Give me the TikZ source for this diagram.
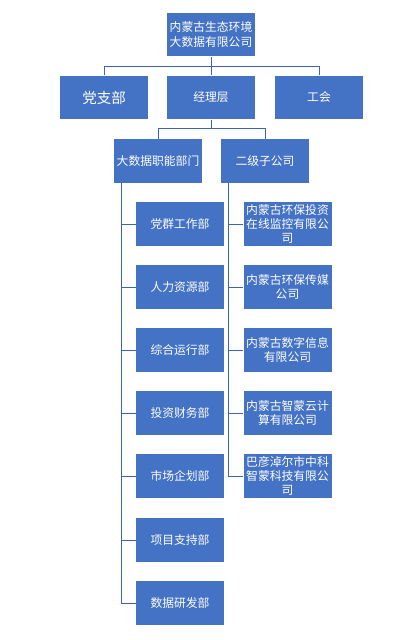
\documentclass[tikz,border=0pt]{standalone}
\usepackage{fontspec}
\newfontfamily\cjk{Noto Sans CJK SC}
\definecolor{box_blue}{RGB}{68,114,196}
\definecolor{edge_blue}{RGB}{59,100,180}
\begin{document}
\begin{tikzpicture}[x=1pt,y=-1pt,semithick]
    \tikzstyle{box}=[fill=box_blue, draw=none, minimum width=88pt, minimum height=43.5pt, inner sep=1pt, align=center, text=white, font=\cjk\fontsize{11.8}{14.2}\selectfont]
    \tikzstyle{big}=[style=box, font=\cjk\fontsize{14.5}{17}\selectfont]
    \tikzstyle{link}=[draw=edge_blue, line width=0.9pt]
    \tikzstyle{elbow}=[to path={|- (\tikztotarget)}]
    \useasboundingbox (0,0) rectangle (412,640);

    \node[box] (eco)   at (211,34.5) {内蒙古生态环境\\大数据有限公司};
    \node[big] (party) at (104,97.5) {党支部};
    \node[box] (mgr)   at (211,97.5) {经理层};
    \node[box] (union) at (319,97.5) {工会};
    \node[box] (func)  at (158,161)  {大数据职能部门};
    \node[box] (sub)   at (265,161)  {二级子公司};

    % departments
    \node[box] (dqgz) at (180,224) {党群工作部};
    \node[box] (rlzy) at (180,287) {人力资源部};
    \node[box] (zhyx) at (180,350) {综合运行部};
    \node[box] (tzcw) at (180,413) {投资财务部};
    \node[box] (scqh) at (180,476) {市场企划部};
    \node[box] (xmzc) at (180,540) {项目支持部};
    \node[box] (sjyf) at (180,603) {数据研发部};

    % subsidiaries
    \node[box] (tzjk) at (287.5,224) {内蒙古环保投资\\在线监控有限公\\司};
    \node[box] (hbcm) at (287.5,287) {内蒙古环保传媒\\公司};
    \node[box] (szxx) at (287.5,350) {内蒙古数字信息\\有限公司};
    \node[box] (zmyj) at (287.5,413) {内蒙古智蒙云计\\算有限公司};
    \node[box] (zkzm) at (287.5,476) {巴彦淖尔市中科\\智蒙科技有限公\\司};

    \coordinate (busA) at (211,66.5);
    \coordinate (busB) at (211,128.5);
    \path[link]
     (eco)   edge[] (busA)
     (mgr)   edge[] (busA)
     (party.north) edge[elbow] (busA)
     (union.north) edge[elbow] (busA)
     (mgr)   edge[] (busB)
     (func.north) edge[elbow] (busB)
     (sub.north)  edge[elbow] (busB)
     ([xshift=8pt]func.south west) edge[elbow] (dqgz.west)
     ([xshift=8pt]func.south west) edge[elbow] (rlzy.west)
     ([xshift=8pt]func.south west) edge[elbow] (zhyx.west)
     ([xshift=8pt]func.south west) edge[elbow] (tzcw.west)
     ([xshift=8pt]func.south west) edge[elbow] (scqh.west)
     ([xshift=8pt]func.south west) edge[elbow] (xmzc.west)
     ([xshift=8pt]func.south west) edge[elbow] (sjyf.west)
     ([xshift=8pt]sub.south west) edge[elbow] (tzjk.west)
     ([xshift=8pt]sub.south west) edge[elbow] (hbcm.west)
     ([xshift=8pt]sub.south west) edge[elbow] (szxx.west)
     ([xshift=8pt]sub.south west) edge[elbow] (zmyj.west)
     ([xshift=8pt]sub.south west) edge[elbow] (zkzm.west)
     ;
\end{tikzpicture}
\end{document}
